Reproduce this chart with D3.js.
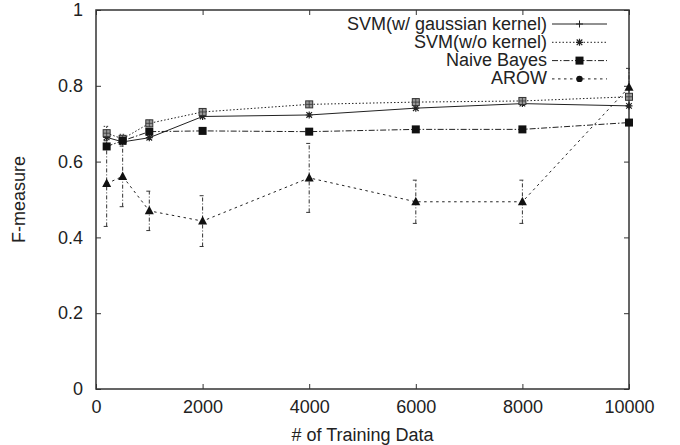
<!DOCTYPE html>
<html>
<head>
<meta charset="utf-8">
<script src="https://cdn.jsdelivr.net/npm/d3@7"></script>
<style>
  body { margin: 0; background: #fff; }
  text { font-family: "Liberation Sans", Arial, sans-serif; fill: #222; }
</style>
</head>
<body>
<div id="chart"></div>
<script>
// values
const trainSizes = [200, 500, 1000, 2000, 4000, 6000, 8000, 10000];
const svmGauss   = [0.664, 0.652, 0.663, 0.719, 0.723, 0.741, 0.753, 0.747];
const svmLinear  = [0.675, 0.660, 0.701, 0.731, 0.751, 0.757, 0.760, 0.771];
const svmLinErr  = [0.018, 0.012, 0.008, 0.006, 0.006, 0.006, 0.006, 0.006];
const naiveBayes = [0.640, 0.655, 0.679, 0.681, 0.679, 0.685, 0.685, 0.703];
const arow       = [0.542, 0.561, 0.470, 0.443, 0.557, 0.494, 0.494, 0.796];
const arowErr    = [0.113, 0.080, 0.052, 0.067, 0.091, 0.057, 0.057, 0.050];
const xTicks = [0, 2000, 4000, 6000, 8000, 10000];
const yTicks = [0, 0.2, 0.4, 0.6, 0.8, 1];
const seriesNames = ["SVM(w/ gaussian kernel)", "SVM(w/o kernel)", "Naive Bayes", "AROW"];

const W = 680, H = 445;
const margin = { top: 10, right: 51, bottom: 56, left: 96 },
    width = W - margin.left - margin.right,
    height = H - margin.top - margin.bottom;

const svg = d3.select("#chart").append("svg")
    .attr("width", W).attr("height", H);
const g = svg.append("g")
    .attr("transform", `translate(${margin.left},${margin.top})`);

const x = d3.scaleLinear().domain([0, 10000]).range([0, width]);
const y = d3.scaleLinear().domain([0, 1]).range([height, 0]);

// axes with inward ticks, mirrored on top/right
const fmtY = d => d === 0 || d === 1 ? d3.format("d")(d) : d3.format(".1f")(d);
g.append("g").attr("class", "ax")
    .call(d3.axisLeft(y).tickValues(yTicks).tickFormat(fmtY).tickSize(-5).tickPadding(13));
g.append("g").attr("class", "ax")
    .attr("transform", `translate(0,${height})`)
    .call(d3.axisBottom(x).tickValues(xTicks).tickFormat(d3.format("d")).tickSize(-5).tickPadding(11));
g.append("g").attr("class", "ax")
    .attr("transform", `translate(${width},0)`)
    .call(d3.axisRight(y).tickValues(yTicks).tickSize(-5).tickFormat(""));
g.append("g").attr("class", "ax")
    .call(d3.axisTop(x).tickValues(xTicks).tickSize(-5).tickFormat(""));
g.selectAll(".ax .domain").remove();
g.selectAll(".ax line").attr("stroke", "#333").attr("stroke-width", 1);
g.selectAll(".ax text").style("font-size", "18px").attr("fill", "#222");

g.append("rect")
    .attr("width", width).attr("height", height)
    .attr("fill", "none").attr("stroke", "#333").attr("stroke-width", 1.5);

// series definitions
const series = [
  { name: seriesNames[0], vals: svmGauss, dash: null, mark: "star", legendMark: "plus" },
  { name: seriesNames[1], vals: svmLinear, err: svmLinErr, dash: "1.5,2", errDash: "1.5,1.5", mark: "box", legendMark: "star" },
  { name: seriesNames[2], vals: naiveBayes, dash: "6,2,1.5,2", mark: "square", legendMark: "square" },
  { name: seriesNames[3], vals: arow, err: arowErr, dash: "2.5,3.5", errDash: "4,2,1,2", mark: "tri", legendMark: "circle" }
];

function drawMark(sel, type, cx, cy) {
  const k = sel.append("g").attr("transform", `translate(${cx},${cy})`);
  if (type === "plus") {
    k.append("path").attr("d", "M-3.5,0H3.5M0,-3.5V3.5").attr("stroke", "#222").attr("stroke-width", 1);
  } else if (type === "star") {
    k.append("path").attr("d", "M-3.5,0H3.5M0,-3.5V3.5M-2.8,-2.8L2.8,2.8M-2.8,2.8L2.8,-2.8")
      .attr("stroke", "#222").attr("stroke-width", 1.2);
  } else if (type === "box") {
    k.append("rect").attr("x", -3.5).attr("y", -3.5).attr("width", 7).attr("height", 7)
      .attr("fill", "#999").attr("stroke", "#333").attr("stroke-width", 1);
    k.append("path").attr("d", "M-3.5,0H3.5M0,-3.5V3.5").attr("stroke", "#333").attr("stroke-width", 0.8);
  } else if (type === "square") {
    k.append("rect").attr("x", -4).attr("y", -4).attr("width", 8).attr("height", 8).attr("fill", "#111");
  } else if (type === "tri") {
    k.append("path").attr("d", "M0,-5L4.5,3.5H-4.5Z").attr("fill", "#111");
  } else if (type === "circle") {
    k.append("circle").attr("r", 3.2).attr("fill", "#111");
  }
}

const line = d3.line().x(d => x(d[0])).y(d => y(d[1]));

series.forEach(s => {
  const pts = trainSizes.map((t, i) => [t, s.vals[i]]);
  if (s.err) {
    pts.forEach((p, i) => {
      const lo = y(p[1] - s.err[i]), hi = y(p[1] + s.err[i]), cx = x(p[0]);
      g.append("path")
        .attr("d", `M${cx},${lo}V${hi}M${cx - 3},${lo}H${cx + 3}M${cx - 3},${hi}H${cx + 3}`)
        .attr("fill", "none").attr("stroke", "#333").attr("stroke-width", 1)
        .attr("stroke-dasharray", s.errDash);
    });
  }
  g.append("path").datum(pts)
    .attr("d", line)
    .attr("fill", "none").attr("stroke", "#222").attr("stroke-width", 1)
    .attr("stroke-dasharray", s.dash);
});
series.forEach(s => {
  trainSizes.forEach((t, i) => drawMark(g, s.mark, x(t), y(s.vals[i])));
});

// legend
const lg = svg.append("g");
series.forEach((s, i) => {
  const by = 29.5 + i * 18.3;
  lg.append("text").attr("x", 547).attr("y", by)
    .attr("text-anchor", "end").style("font-size", "18px").text(s.name);
  lg.append("line").attr("x1", 552).attr("x2", 607).attr("y1", by - 5.5).attr("y2", by - 5.5)
    .attr("stroke", "#222").attr("stroke-width", 1).attr("stroke-dasharray", s.dash);
  drawMark(lg, s.legendMark, 579.5, by - 5.5);
});

// axis titles
svg.append("text")
    .attr("x", margin.left + width / 2).attr("y", 441)
    .attr("text-anchor", "middle").style("font-size", "18px")
    .text("# of Training Data");
svg.append("text")
    .attr("transform", `translate(25,${margin.top + height / 2}) rotate(-90)`)
    .attr("text-anchor", "middle").style("font-size", "18px")
    .text("F-measure");
</script>
</body>
</html>
